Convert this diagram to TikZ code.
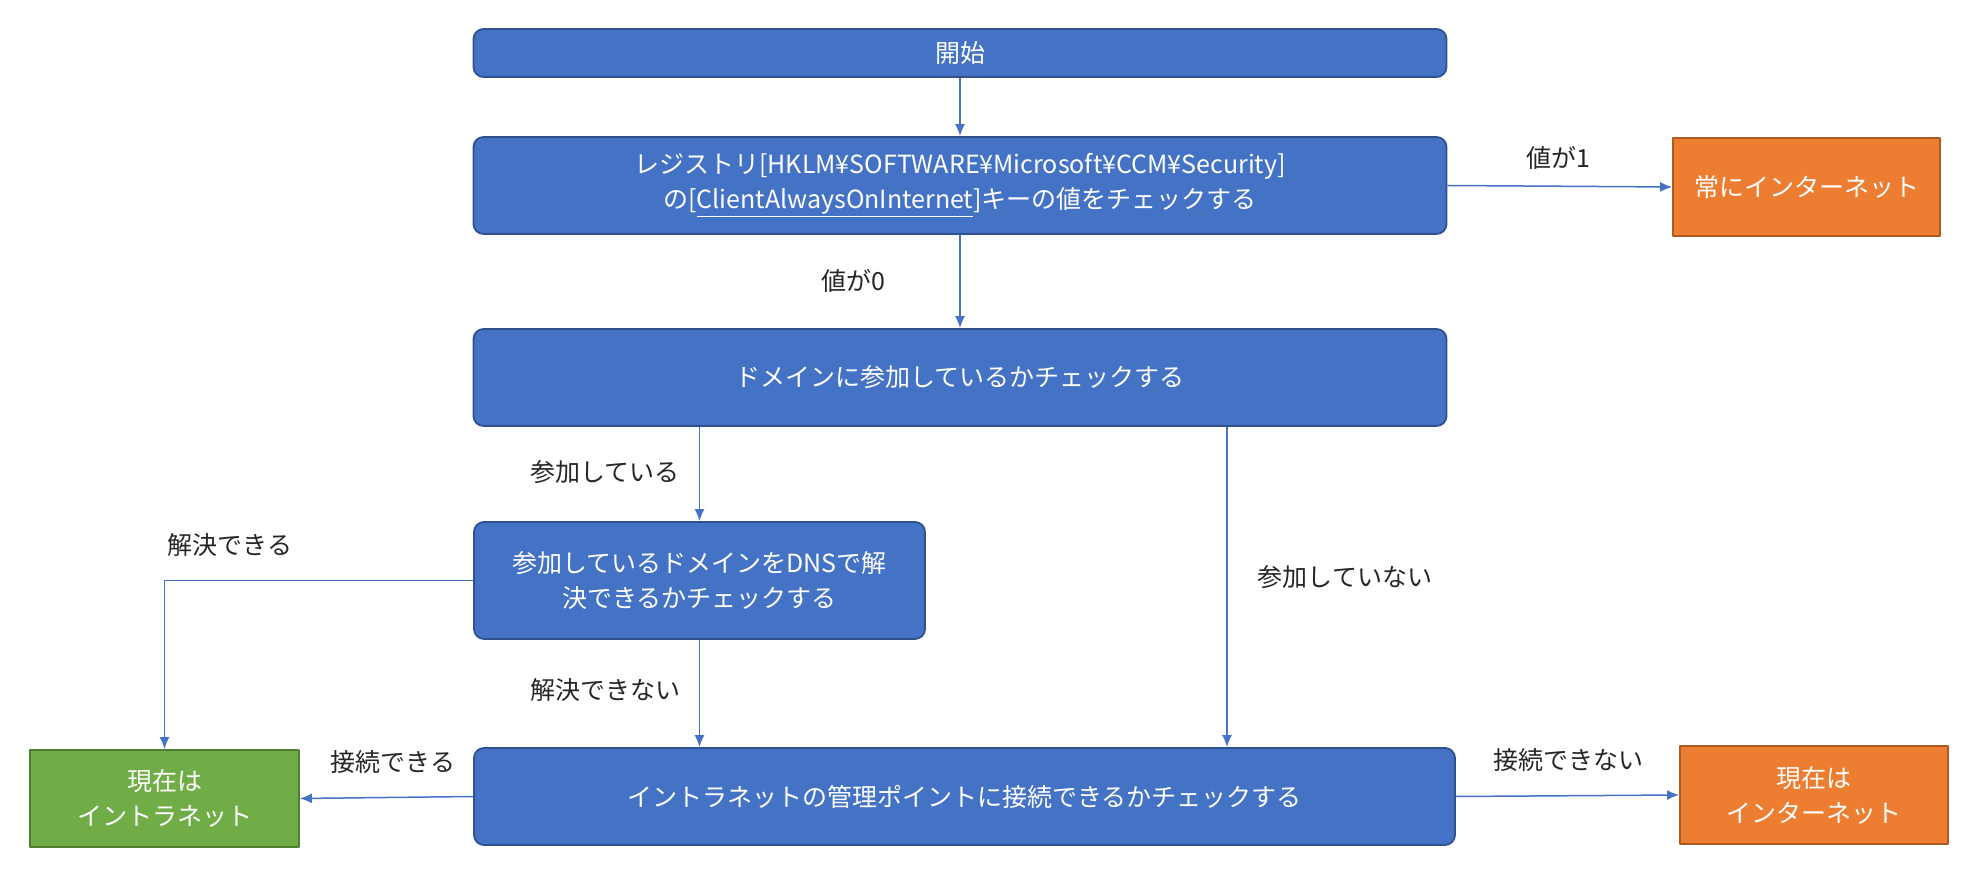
\documentclass[tikz,border=0pt]{standalone}
\usepackage{fontspec}
\setmainfont{Noto Sans CJK JP}
\usetikzlibrary{arrows.meta}
\definecolor{bluefill}{HTML}{4472C4}
\definecolor{blueedge}{HTML}{2F528F}
\definecolor{orangefill}{HTML}{ED7D31}
\definecolor{orangeedge}{HTML}{AE5A21}
\definecolor{greenfill}{HTML}{70AD47}
\definecolor{greenedge}{HTML}{507E32}
\begin{document}
\begin{tikzpicture}[>={Latex[length=6bp,width=5bp]},line join=bevel,
  box/.style={draw,line width=0.9bp,text=white,align=center,inner sep=0pt,
    font=\fontsize{12.5bp}{17.5bp}\selectfont},
  bluebox/.style={box,draw=blueedge,fill=bluefill,rounded corners=5bp},
  orangebox/.style={box,draw=orangeedge,fill=orangefill},
  greenbox/.style={box,draw=greenedge,fill=greenfill},
  edgelabel/.style={font=\fontsize{12.5bp}{17.5bp}\selectfont,text=black!85},
  flow/.style={draw=bluefill,line width=0.75bp,->},
]
\useasboundingbox (0bp,0bp) rectangle (984bp,434.5bp);
%%
\node (node_0) at (480bp,408bp) [bluebox,minimum width=486.5bp,minimum height=24bp] {開始};
  \node (node_1) at (480bp,341.75bp) [bluebox,minimum width=486.5bp,minimum height=48.5bp] {レジストリ[HKLM¥SOFTWARE¥Microsoft¥CCM¥Security]\\の[\underline{ClientAlwaysOnInternet}]キーの値をチェックする};
  \node (node_2) at (903.25bp,341bp) [orangebox,minimum width=133.5bp,minimum height=49bp] {常にインターネット};
  \node (node_3) at (480bp,245.75bp) [bluebox,minimum width=486.5bp,minimum height=48.5bp] {ドメインに参加しているかチェックする};
  \node (node_4) at (349.75bp,144.25bp) [bluebox,minimum width=225.5bp,minimum height=58.5bp] {参加しているドメインをDNSで解\\決できるかチェックする};
  \node (node_5) at (482.25bp,36.25bp) [bluebox,minimum width=490.5bp,minimum height=48.5bp] {イントラネットの管理ポイントに接続できるかチェックする};
  \node (node_6) at (82.25bp,35.25bp) [greenbox,minimum width=134.5bp,minimum height=48.5bp] {現在は\\イントラネット};
  \node (node_7) at (907bp,37bp) [orangebox,minimum width=134bp,minimum height=49bp] {現在は\\インターネット};
  \coordinate (tap_0) at (613.5bp,0bp);
%
  \node (label_0) at (779bp,355.5bp) [edgelabel] {値が1};
  \node (label_1) at (426.5bp,294bp) [edgelabel] {値が0};
  \node (label_2) at (302.5bp,198.5bp) [edgelabel] {参加している};
  \node (label_3) at (672.5bp,146bp) [edgelabel] {参加していない};
  \node (label_4) at (115bp,162bp) [edgelabel] {解決できる};
  \node (label_5) at (302.5bp,89.5bp) [edgelabel] {解決できない};
  \node (label_6) at (196.5bp,53.5bp) [edgelabel] {接続できる};
  \node (label_7) at (784bp,54.5bp) [edgelabel] {接続できない};
%
  \draw [flow] (node_0) -- (node_1);
  \draw [flow] (node_1.east) -- (node_2.west);
  \draw [flow] (node_1) -- (node_3);
  \draw [flow] (node_4.north |- node_3.south) -- (node_4.north);
  \draw [flow] (node_3.south -| tap_0) -- (node_5.north -| tap_0);
  \draw [flow] (node_4.south) -- (node_4.south |- node_5.north);
  \draw [flow] (node_4.west) -| (node_6.north);
  \draw [flow] (node_5.west) -- (node_6.east);
  \draw [flow] (node_5.east) -- (node_7.west);
%
\end{tikzpicture}
\end{document}
